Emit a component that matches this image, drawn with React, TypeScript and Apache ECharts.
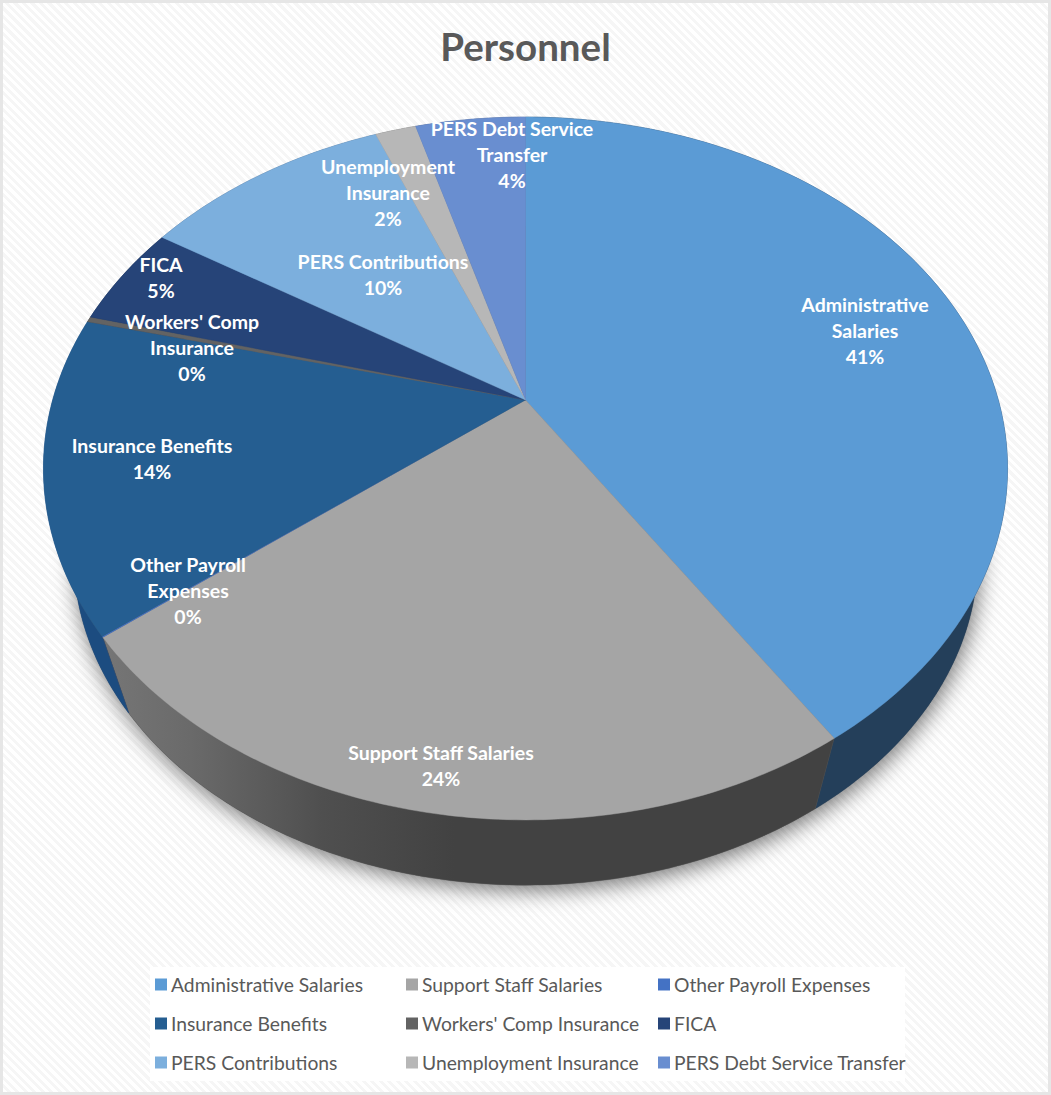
import React, { useEffect, useRef } from "react";
import * as echarts from "echarts";

// Budget shares, in percent, clockwise from twelve o'clock.
const categories = [
  "Administrative Salaries",
  "Support Staff Salaries",
  "Other Payroll Expenses",
  "Insurance Benefits",
  "Workers' Comp Insurance",
  "FICA",
  "PERS Contributions",
  "Unemployment Insurance",
  "PERS Debt Service Transfer",
];
const shares = [40.8, 23.6, 0.05, 14.45, 0.25, 4.75, 10.0, 1.65, 4.45];
const faceColors = ["#5B9BD5", "#A5A5A5", "#4472C4", "#255E91", "#636363", "#264478", "#7CAFDD", "#B7B7B7", "#698ED0"];
const wallColors = ["#243F5A", "#424242", "#2A4677", "#1C4C80", "#3C3C3C", "#172A4A", "#4B6B88", "#6F6F6F", "#405780"];
const labelLines = [
  ["Administrative", "Salaries"],
  ["Support Staff Salaries"],
  ["Other Payroll", "Expenses"],
  ["Insurance Benefits"],
  ["Workers' Comp", "Insurance"],
  ["FICA"],
  ["PERS Contributions"],
  ["Unemployment", "Insurance"],
  ["PERS Debt Service", "Transfer"],
];
// Label block centres on the chart surface.
const labelAnchors = [
  [865, 330],
  [441, 765],
  [188, 590],
  [152, 458],
  [192, 347],
  [161, 277],
  [383, 274],
  [388, 192],
  [512, 154],
];
const legendColumns = [
  { left: 155, items: [0, 3, 6] },
  { left: 406, items: [1, 4, 7] },
  { left: 658, items: [2, 5, 8] },
];

// Perspective projection of the unit disc onto the top face, then toward the vanishing point for the base.
const HUB = { x: 525.5, y: 400 };
const AX = 472.8;
const BY = 338.1;
const TILT = -0.1948;
const VANISH = { x: 530, y: 1873 };
const BASE_SCALE = 0.938;

const total = shares.reduce((a, b) => a + b, 0);
const starts = shares.map((_, i) => shares.slice(0, i).reduce((a, b) => a + b, 0));

function topPoint(pct: number): number[] {
  const t = (pct / total) * 2 * Math.PI;
  const x = Math.sin(t);
  const y = -Math.cos(t);
  const d = 1 + TILT * y;
  return [HUB.x + (AX * x) / d, HUB.y + (BY * y) / d];
}
function basePoint(pct: number): number[] {
  const p = topPoint(pct);
  return [VANISH.x + BASE_SCALE * (p[0] - VANISH.x), VANISH.y + BASE_SCALE * (p[1] - VANISH.y)];
}
function arc(from: number, to: number, fn: (p: number) => number[]): number[][] {
  const n = Math.max(2, Math.ceil((to - from) * 4));
  const pts: number[][] = [];
  for (let i = 0; i <= n; i++) pts.push(fn(from + ((to - from) * i) / n));
  return pts;
}

function sliceRenderer(i: number) {
  return (_params: any, api: any) => {
    const from = api.value(0);
    const to = api.value(1);
    const top = arc(from, to, topPoint);
    const base = arc(from, to, basePoint).reverse();
    const wallFill: any =
      i === 1
        ? {
            type: "linear",
            x: 0,
            y: 0,
            x2: 1,
            y2: 0,
            colorStops: [
              { offset: 0, color: "#767676" },
              { offset: 0.12, color: "#6a6a6a" },
              { offset: 0.3, color: "#4f4f4f" },
              { offset: 0.48, color: "#424242" },
              { offset: 1, color: "#424242" },
            ],
          }
        : wallColors[i];
    // Hairline slices would otherwise read thicker than their share.
    const hairline = shares[i] < 0.2;
    return {
      type: "group",
      children: [
        {
          type: "polygon",
          z2: 1,
          shape: { points: top.concat(base) },
          style: { fill: wallFill, stroke: i === 1 ? "#555" : wallColors[i], lineWidth: hairline ? 0 : 0.4 },
        },
        {
          type: "polygon",
          z2: 2,
          shape: { points: [[HUB.x, HUB.y], ...top] },
          style: { fill: faceColors[i], stroke: faceColors[i], lineWidth: hairline ? 0 : 0.4 },
        },
        {
          type: "text",
          z2: 10,
          x: labelAnchors[i][0],
          y: labelAnchors[i][1],
          style: {
            text: [...labelLines[i], `${Math.round((api.value(2) / total) * 100)}%`].join("\n"),
            fill: "#ffffff",
            font: "bold 19.5px Lato",
            lineHeight: 26,
            align: "center",
            verticalAlign: "middle",
          },
        },
      ],
    };
  };
}

function buildOption(): any {
  const sliceSeries = categories.map((name, i) => ({
    type: "custom",
    name,
    coordinateSystem: "none",
    clip: false,
    silent: true,
    itemStyle: { color: faceColors[i] },
    data: [{ name, value: [starts[i], starts[i] + shares[i], shares[i]] }],
    renderItem: sliceRenderer(i),
  }));
  const shadowDisc = {
    type: "custom",
    name: "Disc shadow",
    coordinateSystem: "none",
    clip: false,
    silent: true,
    data: [[0, total]],
    renderItem: (_params: any, api: any) => ({
      type: "polygon",
      z2: 0,
      shape: { points: arc(api.value(0), api.value(1), basePoint) },
      style: {
        fill: "#555",
        shadowBlur: 22,
        shadowColor: "rgba(0,0,0,0.55)",
        shadowOffsetX: 2,
        shadowOffsetY: 5,
      },
    }),
  };
  return {
    animation: false,
    backgroundColor: "transparent",
    title: {
      text: "Personnel",
      left: "center",
      top: 21,
      textStyle: { fontFamily: "Lato", fontWeight: "bold", fontSize: 38.5, color: "#595959" },
    },
    graphic: [
      {
        type: "rect",
        z: 0,
        shape: { x: 150, y: 967, width: 755, height: 114 },
        style: { fill: "#ffffff" },
      },
    ],
    legend: legendColumns.map((col) => ({
      orient: "vertical",
      left: col.left,
      top: 975,
      itemWidth: 12,
      itemHeight: 12,
      itemGap: 20,
      icon: "rect",
      selectedMode: false,
      padding: 0,
      data: col.items.map((k) => categories[k]),
      textStyle: { fontFamily: "Lato", fontSize: 19.3, color: "#595959", padding: [0, 0, 0, -1] },
    })),
    series: [shadowDisc, ...sliceSeries],
  };
}

export default function App() {
  const ref = useRef<HTMLDivElement>(null);
  useEffect(() => {
    const chart = echarts.init(ref.current!, undefined, { renderer: "svg" });
    chart.setOption(buildOption());
    return () => chart.dispose();
  }, []);
  return (
    <div
      style={{
        position: "absolute",
        left: 0,
        top: 0,
        width: 1051,
        height: 1095,
        boxSizing: "border-box",
        border: "3px solid #e6e6e6",
        background: "repeating-linear-gradient(45deg, #ffffff 0 3px, #f6f6f6 3px 6px)",
      }}
    >
      <div ref={ref} style={{ position: "absolute", left: -3, top: -3, width: 1051, height: 1095 }} />
    </div>
  );
}
